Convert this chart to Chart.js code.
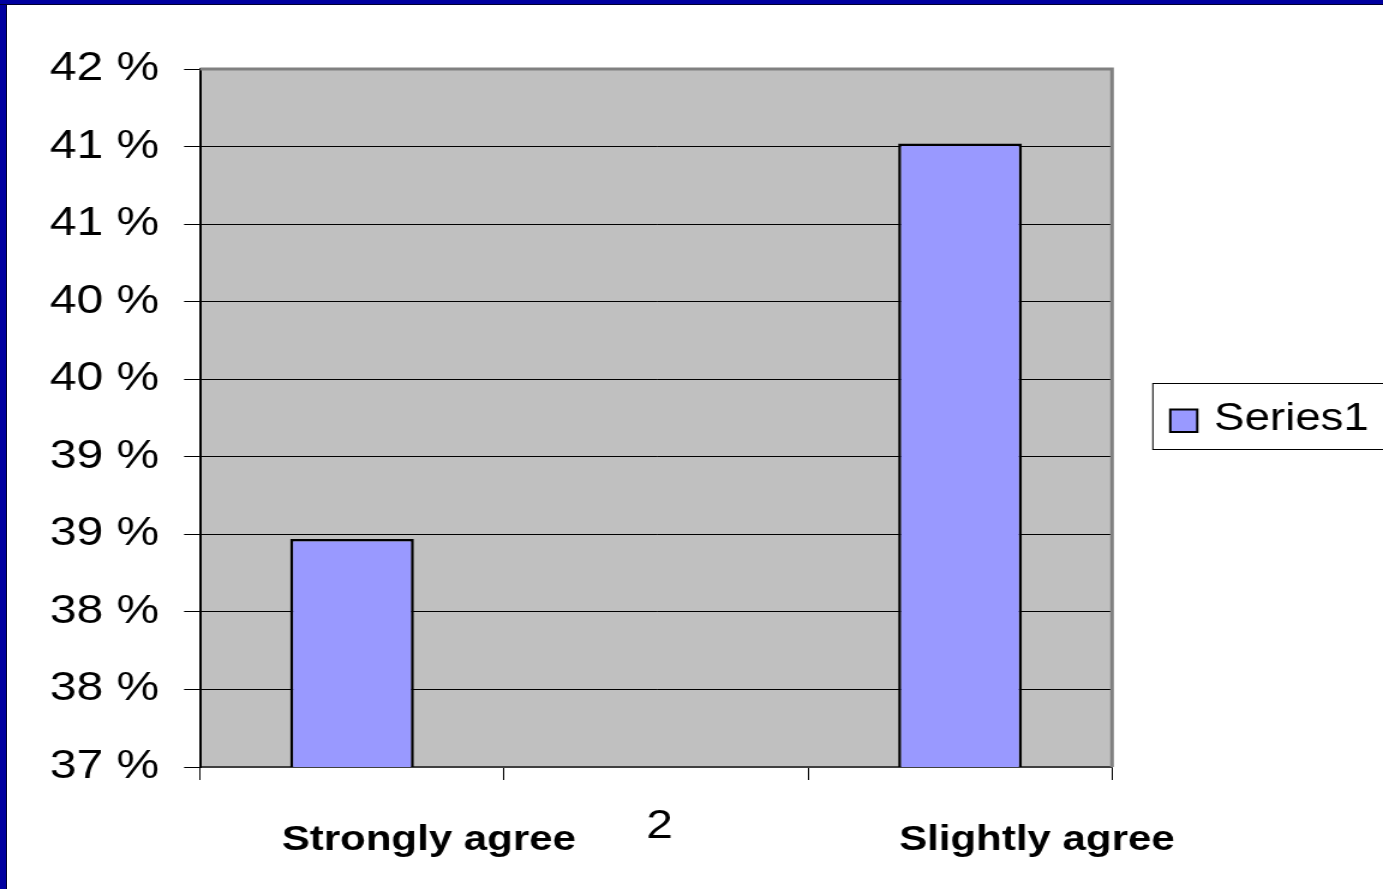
<!DOCTYPE html>
<html>
<head>
<meta charset="utf-8">
<script src="https://cdn.jsdelivr.net/npm/chart.js@4.4.1/dist/chart.umd.min.js"></script>
<style>
  html, body { margin: 0; padding: 0; background: #fff; overflow: hidden; }
  #wrap { position: absolute; left: 0; top: 0; transform: scaleX(1.20052); transform-origin: 0 0; }
  #frameLeft { position: absolute; left: 0; top: 0; width: 6px; height: 889px; background: #0000a0; border-right: 1px solid #000030; z-index: 2; }
  #frameTop { position: absolute; left: 0; top: 0; width: 1383px; height: 4px; background: #0000a0; border-bottom: 1px solid #000030; z-index: 2; }
</style>
</head>
<body>
<div id="frameLeft"></div>
<div id="frameTop"></div>
<div id="wrap"><canvas id="myChart" width="1152" height="889"></canvas></div>
<script>
const FONT = '"Liberation Sans", Arial, sans-serif'

// data
const categories = ['Strongly agree', '2', 'Slightly agree']
const boldLabels = [true, false, true]
const series1 = [38.47, null, 41.02]
const seriesName = 'Series1'
const yMin = 37
const yMax = 41.5
const yStep = 0.5

// grey plot area plus the grey top/right border
const plotArea = {
  id: 'plotArea',
  beforeDraw(chart) {
    const a = chart.chartArea, ctx = chart.ctx
    ctx.save()
    ctx.fillStyle = '#c0c0c0'
    ctx.fillRect(a.left, a.top, a.right - a.left, a.bottom - a.top)
    ctx.restore()
  },
  afterDraw(chart) {
    const a = chart.chartArea, ctx = chart.ctx
    ctx.save()
    ctx.strokeStyle = '#808080'
    ctx.lineWidth = 3
    ctx.beginPath()
    ctx.moveTo(a.left, a.top)
    ctx.lineTo(a.right, a.top)
    ctx.lineTo(a.right, a.bottom)
    ctx.stroke()
    ctx.restore()
  }
}

// category labels, placed off the category scale
const xLabels = {
  id: 'xLabels',
  afterDraw(chart) {
    const ctx = chart.ctx, x = chart.scales.x
    ctx.save()
    ctx.fillStyle = '#000'
    ctx.textAlign = 'center'
    ctx.textBaseline = 'alphabetic'
    categories.forEach(function(c, i) {
      const px = x.getPixelForValue(i)
      if (boldLabels[i]) {
        ctx.font = 'bold 35px ' + FONT
        ctx.fillText(c, px + 64, x.top + 83)
      } else {
        ctx.font = '40px ' + FONT
        ctx.fillText(c, px + 3, x.top + 71)
      }
    })
    ctx.restore()
  }
}

// boxed legend on the right
const boxLegend = {
  id: 'boxLegend',
  afterDraw(chart) {
    const ctx = chart.ctx, a = chart.chartArea
    const ds = chart.data.datasets[0]
    const left = a.right + 34, top = 383.5, h = 66
    ctx.save()
    ctx.strokeStyle = '#000'
    ctx.lineWidth = 1
    ctx.strokeRect(left, top, 400, h)
    ctx.fillStyle = ds.backgroundColor
    ctx.fillRect(left + 14.5, top + 26, 22.5, 22.5)
    ctx.lineWidth = 2
    ctx.strokeRect(left + 14.5, top + 26, 22.5, 22.5)
    ctx.fillStyle = '#000'
    ctx.font = '38px ' + FONT
    ctx.textBaseline = 'alphabetic'
    ctx.fillText(ds.label, left + 51, top + 46.5)
    ctx.restore()
  }
}

const ctx = document.getElementById('myChart')
new Chart(ctx, {
  type: 'bar',
  data: {
    labels: categories,
    datasets: [{
      label: seriesName,
      data: series1,
      backgroundColor: '#9999ff',
      borderColor: '#000',
      borderWidth: 2.5,
      barPercentage: 0.407,
      categoryPercentage: 1
    }]
  },
  options: {
    responsive: false,
    animation: false,
    devicePixelRatio: 1,
    layout: { padding: { left: 0, top: 69, right: 225.7, bottom: 0 } },
    plugins: {
      legend: { display: false },
      tooltip: { enabled: false }
    },
    scales: {
      x: {
        afterFit: function(scale) { scale.height = 122 },
        grid: { display: true, drawOnChartArea: false, drawTicks: true, tickLength: 13, color: '#000', lineWidth: 1 },
        border: { display: true, color: '#404040', width: 2 },
        ticks: { display: false }
      },
      y: {
        min: yMin,
        max: yMax,
        afterFit: function(scale) { scale.width = 166.6 },
        grid: { color: '#000', lineWidth: 1, tickLength: 13.3 },
        border: { display: true, color: '#000', width: 2 },
        ticks: {
          stepSize: yStep,
          padding: 20.7,
          color: '#000',
          font: { family: FONT, size: 40 },
          callback: function(v) { return Math.round(v) + ' %' }
        }
      }
    }
  },
  plugins: [plotArea, xLabels, boxLegend]
})
</script>
</body>
</html>
